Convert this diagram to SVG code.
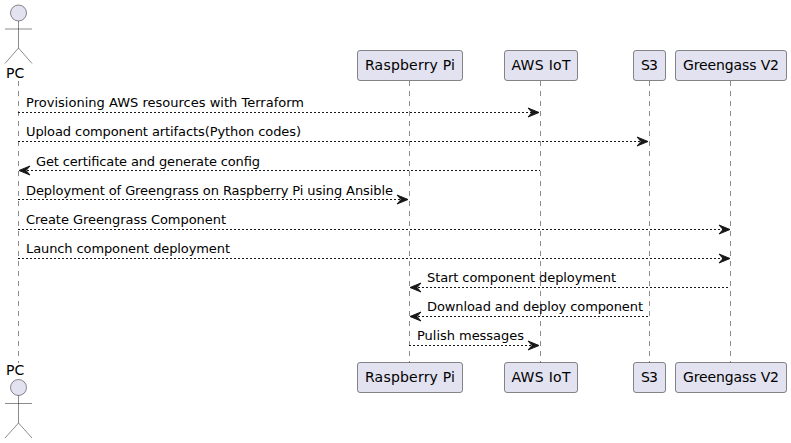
<svg xmlns="http://www.w3.org/2000/svg" width="791" height="443" viewBox="0 0 791 443">
<style>
text{font-family:"DejaVu Sans",sans-serif;font-size:13px;fill:#000}
.t{font-size:14px}
.life{stroke:#181818;stroke-width:.5;stroke-dasharray:5 5;fill:none}
.box{fill:#E2E2F0;stroke:#181818;stroke-width:.5}
.actor{fill:none;stroke:#181818;stroke-width:.5}
.head{fill:#E2E2F0;stroke:#181818;stroke-width:.5}
.msg{stroke:#181818;stroke-width:1;stroke-dasharray:2 2;fill:none}
.arrow{fill:#181818;stroke:#181818;stroke-width:1}
</style>
<rect width="791" height="443" fill="#fff"/>
<g id="lifelines">
<line class="life" x1="18.5" y1="81" x2="18.5" y2="363"/>
<line class="life" x1="409.5" y1="81" x2="409.5" y2="363"/>
<line class="life" x1="540.5" y1="81" x2="540.5" y2="363"/>
<line class="life" x1="649.5" y1="81" x2="649.5" y2="363"/>
<line class="life" x1="730.5" y1="81" x2="730.5" y2="363"/>
</g>
<g id="connectors">
<g id="m1"><line class="msg" x1="18" y1="112.5" x2="536" y2="112.5"/><polygon class="arrow" points="528,108 539,112.5 528,117 532,112.5"/></g>
<g id="m2"><line class="msg" x1="18" y1="141.5" x2="645" y2="141.5"/><polygon class="arrow" points="637,137 648,141.5 637,146 641,141.5"/></g>
<g id="m3"><line class="msg" x1="23" y1="170.5" x2="540" y2="170.5"/><polygon class="arrow" points="30,166 19,170.5 30,175 26,170.5"/></g>
<g id="m4"><line class="msg" x1="18" y1="199.5" x2="404" y2="199.5"/><polygon class="arrow" points="397,195 408,199.5 397,204 401,199.5"/></g>
<g id="m5"><line class="msg" x1="18" y1="229.5" x2="726" y2="229.5"/><polygon class="arrow" points="719,225 730,229.5 719,234 723,229.5"/></g>
<g id="m6"><line class="msg" x1="18" y1="258.5" x2="726" y2="258.5"/><polygon class="arrow" points="719,254 730,258.5 719,263 723,258.5"/></g>
<g id="m7"><line class="msg" x1="414" y1="287.5" x2="730" y2="287.5"/><polygon class="arrow" points="421,283 410,287.5 421,292 417,287.5"/></g>
<g id="m8"><line class="msg" x1="414" y1="316.5" x2="649" y2="316.5"/><polygon class="arrow" points="421,312 410,316.5 421,321 417,316.5"/></g>
<g id="m9"><line class="msg" x1="409" y1="345.5" x2="536" y2="345.5"/><polygon class="arrow" points="528,341 539,345.5 528,350 532,345.5"/></g>
</g>
<g id="labels">
<text x="26" y="107" textLength="278">Provisioning AWS resources with Terraform</text>
<text x="26" y="136" textLength="275">Upload component artifacts(Python codes)</text>
<text x="36" y="166" textLength="224">Get certificate and generate config</text>
<text x="26" y="195" textLength="367">Deployment of Greengrass on Raspberry Pi using Ansible</text>
<text x="26" y="224" textLength="200">Create Greengrass Component</text>
<text x="26" y="253" textLength="204">Launch component deployment</text>
<text x="427" y="282" textLength="189">Start component deployment</text>
<text x="427" y="311" textLength="216">Download and deploy component</text>
<text x="417" y="340" textLength="107">Pulish messages</text>
</g>
<g id="pc-top">
<circle class="head" cx="18.5" cy="13" r="8"/>
<path class="actor" d="M18.5 21V48M5 29H32M18.5 48L5 63.5M18.5 48L32 63.5"/>
<text class="t" x="6" y="78">PC</text>
</g>
<g id="pc-bottom">
<text class="t" x="6" y="375">PC</text>
<circle class="head" cx="18.5" cy="387.5" r="8"/>
<path class="actor" d="M18.5 395.5V423M5 403.5H32M18.5 423L5 438M18.5 423L32 438"/>
</g>
<g id="rpi-top"><rect class="box" x="357.5" y="50.5" width="105" height="30" rx="2.5"/><text class="t" x="365" y="70" textLength="90">Raspberry Pi</text></g>
<g id="iot-top"><rect class="box" x="504.5" y="50.5" width="73" height="30" rx="2.5"/><text class="t" x="511.5" y="70" textLength="59">AWS IoT</text></g>
<g id="s3-top"><rect class="box" x="633.5" y="50.5" width="32" height="30" rx="2.5"/><text class="t" x="641" y="70" textLength="17">S3</text></g>
<g id="gg-top"><rect class="box" x="675.5" y="50.5" width="111" height="30" rx="2.5"/><text class="t" x="683" y="70" textLength="96">Greengass V2</text></g>
<g id="rpi-bottom"><rect class="box" x="357.5" y="362.5" width="105" height="30" rx="2.5"/><text class="t" x="365" y="382" textLength="90">Raspberry Pi</text></g>
<g id="iot-bottom"><rect class="box" x="504.5" y="362.5" width="73" height="30" rx="2.5"/><text class="t" x="511.5" y="382" textLength="59">AWS IoT</text></g>
<g id="s3-bottom"><rect class="box" x="633.5" y="362.5" width="32" height="30" rx="2.5"/><text class="t" x="641" y="382" textLength="17">S3</text></g>
<g id="gg-bottom"><rect class="box" x="675.5" y="362.5" width="111" height="30" rx="2.5"/><text class="t" x="683" y="382" textLength="96">Greengass V2</text></g>
</svg>
